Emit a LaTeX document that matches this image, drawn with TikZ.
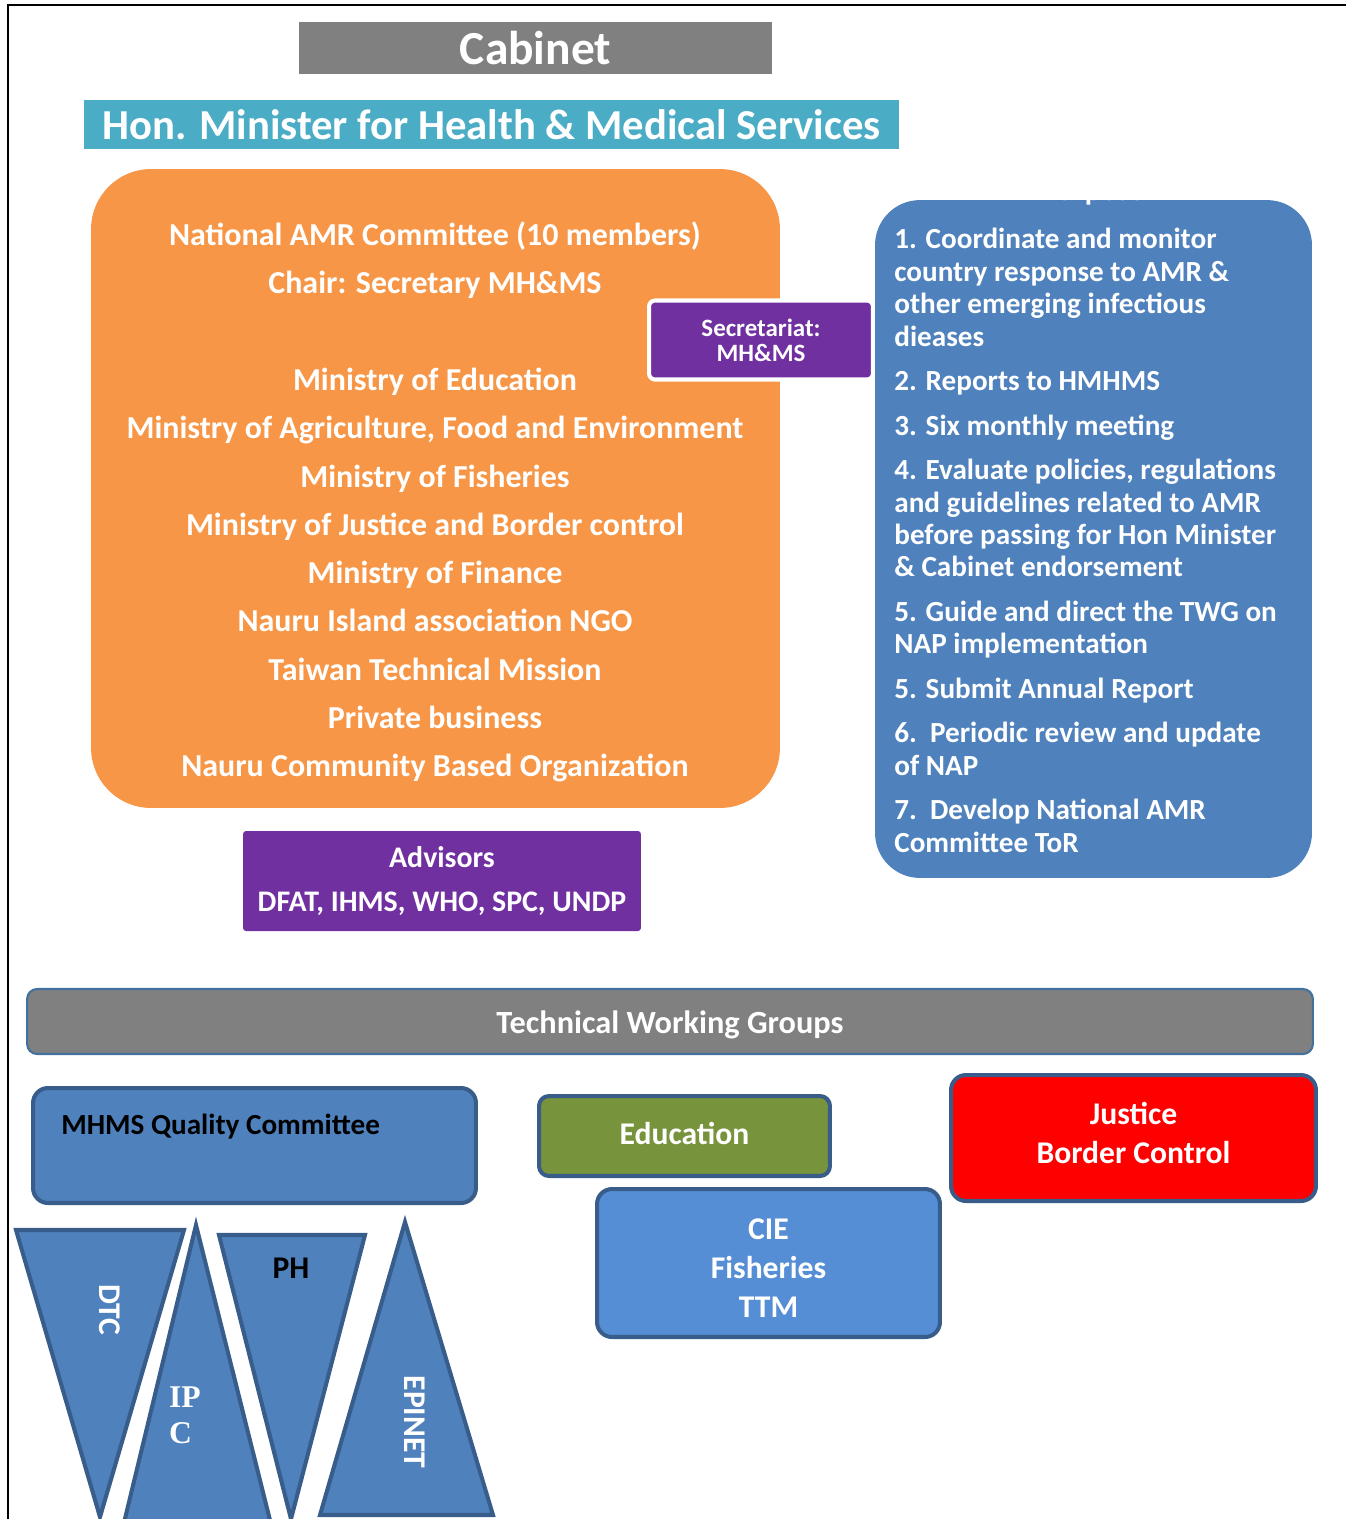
\documentclass[tikz,border=0pt]{standalone}
\usepackage{fontspec}
\setmainfont{Carlito}
\newfontfamily\ipcfont{Liberation Serif}
\definecolor{cabgray}{HTML}{808080}
\definecolor{teal}{HTML}{4BACC6}
\definecolor{amrorange}{HTML}{F79646}
\definecolor{secpurple}{HTML}{7030A0}
\definecolor{midblue}{HTML}{4F81BD}
\definecolor{edgeblue}{HTML}{385D8A}
\definecolor{barblue}{HTML}{41719C}
\definecolor{olive}{HTML}{77933C}
\definecolor{skyblue}{HTML}{558ED5}

\begin{document}
\begin{tikzpicture}[x=0.02cm, y=-0.02cm,
  wtxt/.style={text=white, font=\bfseries\fontsize{18}{22}\selectfont, align=center},
  twg/.style={draw=edgeblue, line width=2.3pt, rounded corners=0.3cm, inner sep=0pt},
  tri/.style={draw=edgeblue, line width=2.3pt, fill=midblue}]
\clip (0,0) rectangle (1346,1519);
\draw [line width=1.2pt] (8,1519) -- (8,5) -- (1346,5);

\node (cab) at (535.5,48) [fill=cabgray, minimum width=9.46cm, minimum height=1.04cm, wtxt, font=\bfseries\fontsize{27}{30}\selectfont] {Cabinet};
\node (hon) at (491.5,124.5) [fill=teal, minimum width=16.3cm, minimum height=0.98cm, wtxt, font=\bfseries\fontsize{24.3}{28}\selectfont] {Hon. Minister for Health \& Medical Services};

\node (amr) at (435.5,488.5) [fill=amrorange, minimum width=13.78cm, minimum height=12.78cm, rounded corners=1.2cm] {};
\node (amrtext) at (435,502) [wtxt, font=\bfseries\fontsize{18.2}{27.5}\selectfont] {National AMR Committee (10 members)\\ Chair: Secretary MH\&MS\\[27.5pt] Ministry of Education\\ Ministry of Agriculture, Food and Environment\\ Ministry of Fisheries\\ Ministry of Justice and Border control\\ Ministry of Finance\\ Nauru Island association NGO\\ Taiwan Technical Mission\\ Private business\\ Nauru Community Based Organization};
\node (sec) at (761,340) [fill=secpurple, draw=white, line width=2.3pt, rounded corners=0.12cm, minimum width=4.48cm, minimum height=1.58cm, wtxt, font=\bfseries\fontsize{14.2}{14.2}\selectfont] {Secretariat:\\ MH\&MS};

\node (purpose) at (1093.5,539) [fill=midblue, minimum width=8.74cm, minimum height=13.56cm, rounded corners=0.9cm] {};
\node (ptitle) at (1093,200) [anchor=base, text=white, font=\bfseries\fontsize{17}{20}\selectfont] {Purpose};
\node (plist) at (894,228) [anchor=north west, inner sep=0pt, text=white, align=left, font=\bfseries\fontsize{16.6}{18.45}\selectfont] {1. Coordinate and monitor\\ country response to AMR \&\\ other emerging infectious\\ dieases\\[6.9pt] 2. Reports to HMHMS\\[6.9pt] 3. Six monthly meeting\\[6.9pt] 4. Evaluate policies, regulations\\ and guidelines related to AMR\\ before passing for Hon Minister\\ \& Cabinet endorsement\\[6.9pt] 5. Guide and direct the TWG on\\ NAP implementation\\[6.9pt] 5. Submit Annual Report\\[6.9pt] 6.\ \ Periodic review and update\\ of NAP\\[6.9pt] 7.\ \ Develop National AMR\\ Committee ToR};

\node (adv) at (442,881) [fill=secpurple, rounded corners=0.06cm, minimum width=7.96cm, minimum height=2cm, wtxt, font=\bfseries\fontsize{17}{25.5}\selectfont] {Advisors\\ DFAT, IHMS, WHO, SPC, UNDP};

\node (tbar) at (670,1021.5) [fill=cabgray, draw=barblue, line width=1.2pt, rounded corners=0.2cm, minimum width=25.72cm, minimum height=1.3cm] {};
\node (tbarl) at (670,1025) [wtxt, font=\bfseries\fontsize{18.4}{22}\selectfont] {Technical Working Groups};

\node (mhms) at (254.5,1145.5) [twg, fill=midblue, minimum width=8.86cm, minimum height=2.3cm] {};
\node (mhmsl) at (61,1127) [anchor=west, inner sep=0pt, font=\bfseries\fontsize{16.6}{20}\selectfont] {MHMS Quality Committee};
\node (edu) at (684.5,1136) [twg, fill=olive, rounded corners=0.2cm, minimum width=5.82cm, minimum height=1.6cm] {};
\node (edul) at (684.5,1133) [wtxt] {Education};
\node (cie) at (768.5,1263) [twg, fill=skyblue, minimum width=6.86cm, minimum height=2.96cm] {};
\node (ciel) at (768.5,1268) [wtxt] {CIE\\ Fisheries\\ TTM};
\node (jus) at (1133.5,1138) [twg, fill=red, minimum width=7.3cm, minimum height=2.52cm] {};
\node (jusl) at (1133.5,1133) [wtxt] {Justice\\ Border Control};

\draw [tri] (16,1230) -- (184,1230) -- (100,1517) -- cycle;
\draw [tri] (196,1225) -- (280,1560) -- (115,1560) -- cycle;
\draw [tri] (219,1235) -- (365,1235) -- (291,1519) -- cycle;
\draw [tri] (405,1222) -- (493,1515) -- (320,1515) -- cycle;
\node (dtc) at (110,1310) [rotate=-90, wtxt] {DTC};
\node (ipc) at (185,1415) [text=white, align=left, font=\ipcfont\bfseries\fontsize{18}{20.5}\selectfont] {IP\\ C};
\node (ph) at (291,1268) [font=\bfseries\fontsize{18}{22}\selectfont] {PH};
\node (epi) at (415,1422) [rotate=-90, wtxt] {EPINET};
\end{tikzpicture}
\end{document}
